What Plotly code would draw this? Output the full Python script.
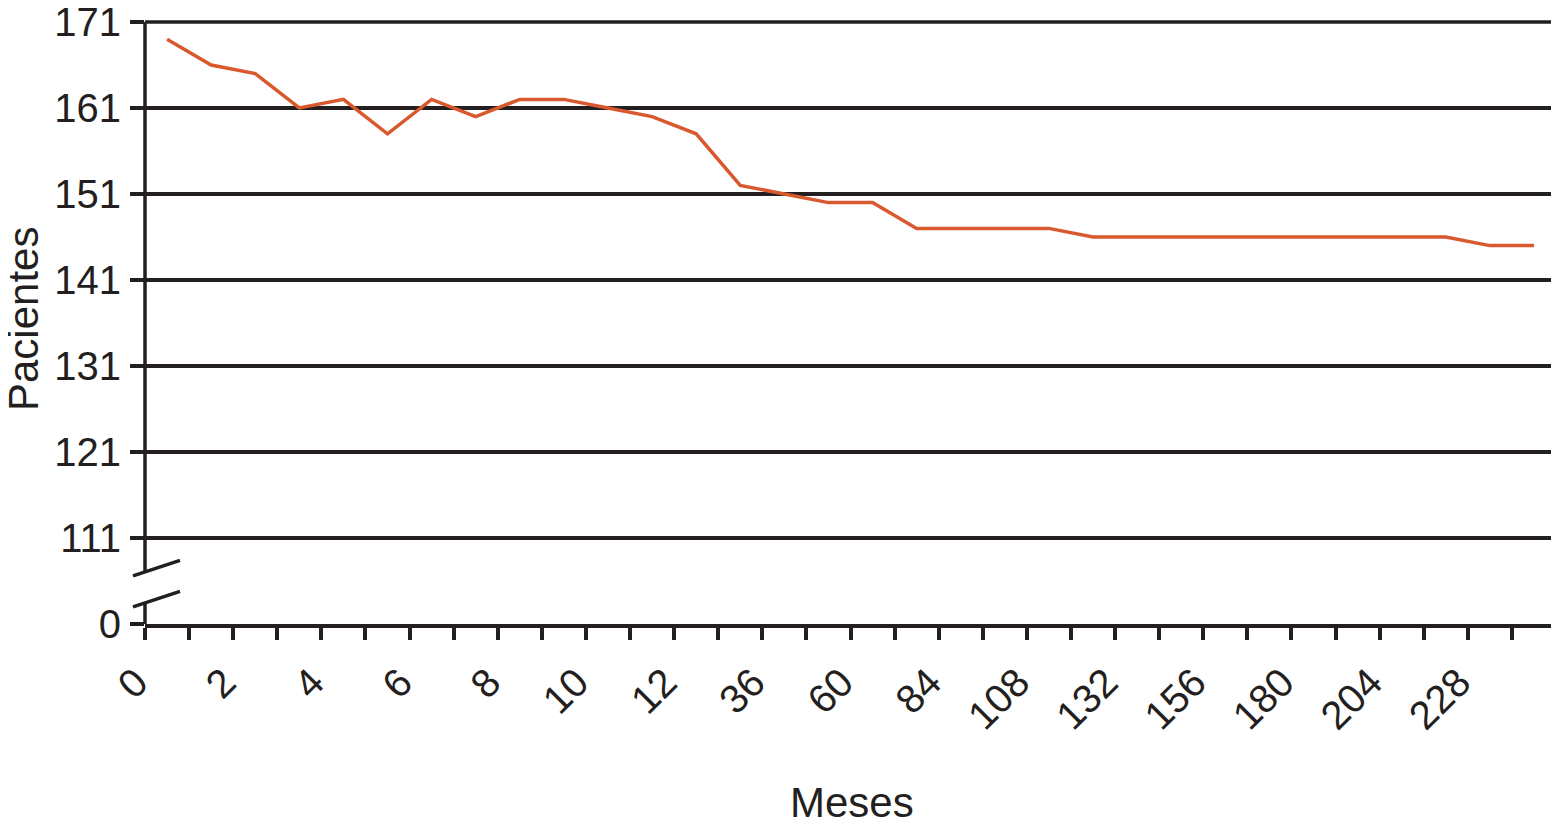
import plotly.graph_objects as go

# Categories (months) and patient counts
meses = [0, 1, 2, 3, 4, 5, 6, 7, 8, 9, 10, 11, 12, 24, 36, 48, 60, 72, 84, 96,
         108, 120, 132, 144, 156, 168, 180, 192, 204, 216, 228, 240]
pacientes = [169, 166, 165, 161, 162, 158, 162, 160, 162, 162, 161, 160, 158,
             152, 151, 150, 150, 147, 147, 147, 147, 146, 146, 146, 146, 146,
             146, 146, 146, 146, 145, 145]

# y-axis: broken axis, "0" is drawn one step below 111
y_tick_labels = ["0", "111", "121", "131", "141", "151", "161", "171"]
y_tick_pos = [101, 111, 121, 131, 141, 151, 161, 171]

n = len(meses)
x_pos = [i + 0.5 for i in range(n)]
x_tickvals = list(range(n + 1))
x_ticktext = [str(meses[i]) if (i % 2 == 0 and i < n) else "" for i in range(n + 1)]

FONT = "Liberation Sans, Arial, Helvetica, sans-serif"
INK = "#231F20"
LW = 3.5

fig = go.Figure()
fig.add_trace(go.Scatter(
    x=x_pos, y=pacientes, mode="lines",
    line=dict(color="#D9592E", width=3.5),
    showlegend=False, hoverinfo="skip"))

y0, y1 = 101, 171
def py(v):
    return (v - y0) / (y1 - y0)

W_PLOT = 1411.0
H_PLOT = 602.0
shapes = [
    # top gridline (at range edge)
    dict(type="line", xref="paper", yref="paper", x0=0, x1=1, y0=1, y1=1,
         line=dict(color=INK, width=LW)),
    # left axis, upper part
    dict(type="line", xref="paper", yref="paper", x0=0, x1=0, y0=1, y1=py(107.05),
         line=dict(color=INK, width=LW)),
    # left axis, lower part
    dict(type="line", xref="paper", yref="paper", x0=0, x1=0, y0=py(103.44), y1=0,
         line=dict(color=INK, width=LW)),
    # break slashes
    dict(type="line", xref="paper", yref="paper", x0=-12 / W_PLOT, x1=35 / W_PLOT,
         y0=py(106.6), y1=py(108.4), line=dict(color=INK, width=LW)),
    dict(type="line", xref="paper", yref="paper", x0=-12 / W_PLOT, x1=35 / W_PLOT,
         y0=py(103.0), y1=py(104.8), line=dict(color=INK, width=LW)),
    # right border
    dict(type="line", xref="paper", yref="paper", x0=1, x1=1, y0=0, y1=1,
         line=dict(color=INK, width=LW)),
]

# page body has an 8px default margin, so the figure is sized to fit inside it
fig.update_layout(
    width=1551, height=828,
    margin=dict(l=137, r=3, t=14, b=212, autoexpand=False),
    paper_bgcolor="white", plot_bgcolor="white",
    font=dict(family=FONT, size=40, color=INK),
    shapes=shapes,
    xaxis=dict(
        range=[0, n], tickmode="array", tickvals=x_tickvals, ticktext=x_ticktext,
        tickangle=-45, ticks="outside", ticklen=12, tickwidth=LW, tickcolor=INK,
        showline=True, linewidth=LW, linecolor=INK, showgrid=False, zeroline=False,
        tickfont=dict(size=40, color=INK, family=FONT), automargin=False,
        ticklabelshift=-9, ticklabelstandoff=3, ticklabeloverflow="allow",
    ),
    yaxis=dict(
        range=[y0, y1], tickmode="array", tickvals=y_tick_pos, ticktext=y_tick_labels,
        ticks="outside", ticklen=14, tickwidth=LW, tickcolor=INK,
        showline=False, showgrid=True, gridcolor=INK, gridwidth=LW, zeroline=False,
        tickfont=dict(size=40, color=INK, family=FONT), ticklabelstandoff=1,
        automargin=False, ticklabeloverflow="allow",
    ),
    annotations=[
        dict(text="Pacientes", xref="paper", yref="paper", x=(23 - 145) / W_PLOT,
             y=(624 - 319) / H_PLOT, xanchor="center", yanchor="middle",
             textangle=-90, showarrow=False, font=dict(size=42, color=INK, family=FONT)),
        dict(text="Meses", xref="paper", yref="paper", x=(852 - 145) / W_PLOT,
             y=(624 - 802) / H_PLOT, xanchor="center", yanchor="middle",
             showarrow=False, font=dict(size=42, color=INK, family=FONT)),
    ],
)

fig.write_html("out.html")
